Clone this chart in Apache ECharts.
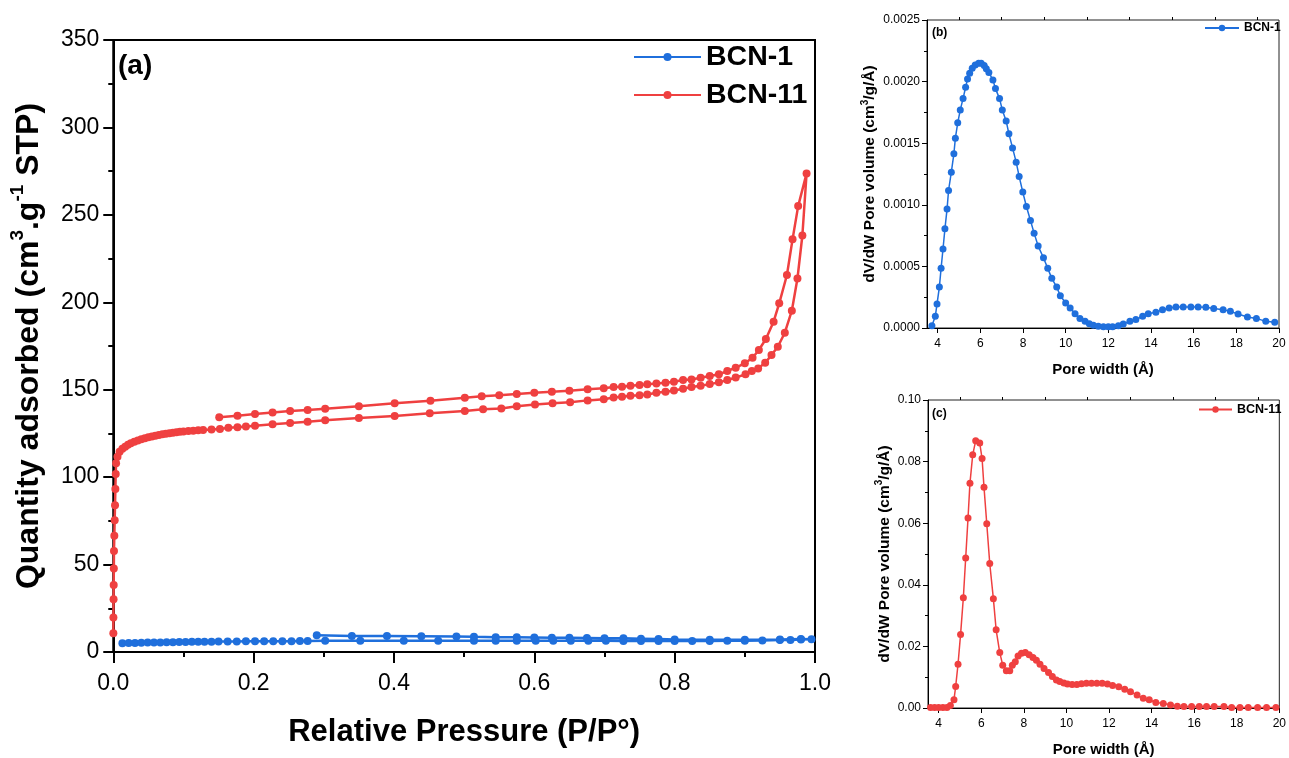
<!DOCTYPE html>
<html>
<head>
<meta charset="utf-8">
<script src="https://cdn.jsdelivr.net/npm/echarts@6/dist/echarts.min.js"></script>
<style>
html,body{margin:0;padding:0;background:#fff;}
#chart{width:1289px;height:758px;}
</style>
</head>
<body>
<div id="chart"></div>
<script>
// ---- Panel (a): N2 isotherms ----
const bcn11P = [0.0001,0.0002,0.0004,0.0006,0.0008,0.001,0.0015,0.002,0.0025,0.003,0.0035,0.004,0.006,0.009,0.013,0.017,0.021,0.025,0.030,0.035,0.040,0.045,0.050,0.055,0.060,0.065,0.070,0.075,0.080,0.085,0.090,0.095,0.100,0.107,0.114,0.121,0.128,0.140,0.152,0.164,0.177,0.189,0.202,0.227,0.252,0.277,0.302,0.350,0.401,0.451,0.501,0.527,0.553,0.575,0.601,0.626,0.651,0.676,0.699,0.713,0.725,0.737,0.750,0.761,0.774,0.787,0.799,0.812,0.824,0.837,0.850,0.863,0.875,0.887,0.901,0.910,0.919,0.929,0.938,0.947,0.957,0.967,0.975,0.982,0.988,
  0.976,0.968,0.960,0.949,0.941,0.930,0.920,0.911,0.900,0.887,0.875,0.863,0.850,0.837,0.824,0.812,0.799,0.787,0.774,0.761,0.750,0.737,0.725,0.713,0.699,0.676,0.650,0.625,0.600,0.575,0.550,0.525,0.501,0.452,0.401,0.350,0.302,0.277,0.252,0.227,0.202,0.177,0.151];
const bcn11V = [10.7,19.8,30.1,38.3,47.8,57.8,66.5,75.3,83.9,93.2,101.8,107.9,111.7,114.5,116.2,117.4,118.5,119.4,120.2,121.0,121.7,122.3,122.8,123.3,123.7,124.1,124.5,124.8,125.1,125.4,125.7,125.9,126.1,126.4,126.6,126.8,127.0,127.2,127.5,128.2,128.6,128.9,129.4,130.2,130.9,131.7,132.6,133.8,134.9,136.5,137.8,138.8,139.3,140.6,141.6,142.2,142.8,143.9,144.5,145.6,146.0,146.6,146.9,147.3,148.3,148.8,149.6,150.6,151.5,152.3,153.2,154.2,155.5,157.0,158.8,160.7,162.2,165.4,169.8,174.6,182.6,195.2,213.6,238.2,273.7,
  255.0,236.0,215.6,199.4,188.9,179.0,172.7,168.3,165.1,162.6,160.7,158.8,157.8,156.8,155.9,155.5,154.6,154.0,153.6,153.1,152.7,152.3,151.7,151.5,150.8,150.2,149.4,148.8,148.3,147.5,146.9,146.2,145.4,143.7,142.2,140.5,139.1,138.4,137.8,137.0,136.1,135.1,134.2];

const bcn1P = [0.013,0.022,0.031,0.040,0.049,0.058,0.067,0.076,0.085,0.094,0.103,0.112,0.121,0.130,0.140,0.150,0.163,0.176,0.189,0.202,0.215,0.228,0.241,0.254,0.266,0.277,0.302,0.352,0.414,0.463,0.514,0.545,0.575,0.602,0.627,0.652,0.677,0.702,0.727,0.752,0.777,0.800,0.825,0.850,0.875,0.900,0.925,0.950,0.965,0.980,0.995,
  0.980,0.950,0.900,0.850,0.800,0.777,0.752,0.727,0.700,0.675,0.650,0.625,0.600,0.575,0.545,0.514,0.489,0.439,0.390,0.340,0.290];
const bcn1V = [5.0,5.1,5.2,5.3,5.4,5.5,5.5,5.6,5.6,5.7,5.7,5.8,5.8,5.9,5.9,6.0,6.0,6.0,6.1,6.1,6.1,6.2,6.2,6.2,6.3,6.3,6.4,6.5,6.5,6.5,6.5,6.5,6.5,6.4,6.4,6.4,6.4,6.4,6.3,6.3,6.3,6.3,6.3,6.3,6.4,6.5,6.6,6.8,6.9,7.1,7.3,
  7.4,7.2,7.0,7.0,7.2,7.4,7.6,7.8,7.9,8.0,8.1,8.2,8.3,8.4,8.5,8.7,8.9,9.0,9.1,9.2,9.6];

// ---- Panel (b): BCN-1 pore size distribution ----
const psdBW = [3.73,3.89,3.97,4.08,4.16,4.25,4.34,4.44,4.51,4.64,4.76,4.83,4.94,5.06,5.19,5.31,5.40,5.50,5.62,5.76,5.92,6.04,6.18,6.28,6.40,6.59,6.71,6.90,7.03,7.21,7.34,7.51,7.68,7.82,7.99,8.16,8.35,8.52,8.71,8.96,9.16,9.35,9.58,9.75,10.0,10.21,10.44,10.67,10.91,11.11,11.30,11.53,11.77,12.0,12.2,12.47,12.70,13.01,13.29,13.61,13.87,14.23,14.54,14.85,15.17,15.51,15.87,16.21,16.57,16.94,17.38,17.72,18.08,18.52,18.94,19.38,19.80];
const psdBV = [0.000019,0.000095,0.000195,0.000332,0.000484,0.000641,0.000805,0.000965,0.001116,0.001265,0.001414,0.001541,0.001665,0.00177,0.001862,0.001954,0.002022,0.002068,0.002108,0.002135,0.002149,0.002149,0.00213,0.002105,0.002073,0.002014,0.001943,0.001862,0.00177,0.001681,0.001576,0.001462,0.001346,0.00123,0.001103,0.000986,0.000873,0.00077,0.000665,0.00057,0.000484,0.000403,0.000332,0.000262,0.000203,0.000162,0.000116,0.000078,0.000054,0.000035,0.000022,0.000014,0.000011,0.000011,0.000011,0.000019,0.000032,0.000054,0.000068,0.000095,0.000116,0.000127,0.000149,0.000162,0.00017,0.00017,0.00017,0.00017,0.000168,0.000159,0.000149,0.000135,0.000114,0.000089,0.000078,0.000054,0.000046];

// ---- Panel (c): BCN-11 pore size distribution ----
const psdCW = [3.62,3.81,4.0,4.2,4.39,4.55,4.72,4.80,4.91,5.03,5.16,5.27,5.38,5.47,5.60,5.74,5.93,6.04,6.13,6.26,6.40,6.57,6.70,6.87,7.01,7.18,7.34,7.46,7.60,7.73,7.89,8.07,8.25,8.43,8.59,8.76,8.95,9.16,9.34,9.53,9.69,9.88,10.05,10.27,10.49,10.71,10.94,11.18,11.43,11.68,11.93,12.17,12.46,12.74,13.01,13.32,13.61,13.89,14.20,14.55,14.89,15.21,15.52,15.88,16.24,16.58,16.94,17.40,17.76,18.15,18.54,18.98,19.40,19.84];
const psdCV = [0.0002,0.0002,0.0002,0.0002,0.0002,0.0008,0.0027,0.0070,0.0142,0.0239,0.0358,0.0487,0.0617,0.0730,0.0822,0.0868,0.0860,0.0810,0.0717,0.0598,0.0469,0.0355,0.0254,0.0180,0.0139,0.0121,0.0121,0.0139,0.0150,0.0169,0.0178,0.0180,0.0173,0.0164,0.0155,0.0142,0.0128,0.0115,0.0102,0.0091,0.0086,0.0081,0.0078,0.0076,0.0076,0.0079,0.0080,0.0080,0.0080,0.0080,0.0078,0.0073,0.0069,0.0061,0.0053,0.0042,0.0032,0.0027,0.0018,0.0015,0.0010,0.0006,0.0005,0.0005,0.0005,0.0005,0.0005,0.0005,0.0002,0.0002,0.0002,0.0002,0.0002,0.0002];

const poreMajorTicks = [4,6,8,10,12,14,16,18,20];
const poreMinorTicks = [5,7,9,11,13,15,17,19];

const BLUE = '#1f6fdc';
const RED = '#ef4040';
const FONT = "'Liberation Sans', Arial, sans-serif";

const zip = (a, b) => a.map((v, i) => [v, b[i]]);

const chart = echarts.init(document.getElementById('chart'));

const smallAxisCommon = {
  axisLine: { lineStyle: { color: '#000', width: 1 } },
  axisTick: { lineStyle: { color: '#000', width: 1 }, length: 5 },
  minorTick: { show: true, splitNumber: 2, length: 3, lineStyle: { color: '#000' } },
  splitLine: { show: false },
  axisLabel: { color: '#000', fontSize: 12, fontFamily: FONT, margin: 7 }
};

const poreNameStyle = { fontSize: 15, fontWeight: 'bold', color: '#000', fontFamily: FONT };
const psdYNameStyle = {
  fontSize: 15.5, fontWeight: 'bold', color: '#000', fontFamily: FONT, lineHeight: 19,
  rich: { sup: { fontSize: 10, fontWeight: 'bold', color: '#000', fontFamily: FONT, lineHeight: 11, verticalAlign: 'top' } }
};

const option = {
  animation: false,
  backgroundColor: '#fff',
  textStyle: { fontFamily: FONT },
  grid: [
    { left: 111, right: 474, top: 40, bottom: 106, show: true, borderColor: '#000', borderWidth: 2 },
    { left: 927, right: 10, top: 20, bottom: 430, show: true, borderColor: '#222', borderWidth: 1 },
    { left: 928, right: 9, top: 400, bottom: 49, show: true, borderColor: '#222', borderWidth: 1 }
  ],
  xAxis: [
    {
      type: 'value', gridIndex: 0, min: 0, max: 1, interval: 0.2,
      name: 'Relative Pressure (P/P°)', nameLocation: 'middle', nameGap: 65,
      nameTextStyle: { fontSize: 31, fontWeight: 'bold', color: '#000', fontFamily: FONT },
      axisLine: { lineStyle: { color: '#000', width: 2 } },
      axisTick: { length: 11, lineStyle: { color: '#000', width: 2 } },
      minorTick: { show: true, splitNumber: 2, length: 5, lineStyle: { color: '#000', width: 2 } },
      splitLine: { show: false },
      axisLabel: { color: '#000', fontSize: 23, fontFamily: FONT, margin: 20, formatter: v => v.toFixed(1) }
    },
    Object.assign({}, smallAxisCommon, {
      type: 'value', gridIndex: 1, min: 3.5, max: 20,
      name: 'Pore width (Å)', nameLocation: 'middle', nameGap: 34,
      nameTextStyle: poreNameStyle,
      axisTick: { customValues: poreMajorTicks, length: 5, lineStyle: { color: '#000' } },
      axisLabel: Object.assign({}, smallAxisCommon.axisLabel, { customValues: poreMajorTicks, margin: 10 }),
      minorTick: { show: false }
    }),
    {
      type: 'value', gridIndex: 1, min: 3.5, max: 20,
      axisLine: { show: false }, axisLabel: { show: false }, splitLine: { show: false },
      axisTick: { customValues: poreMinorTicks, length: 3, lineStyle: { color: '#000' } }
    },
    Object.assign({}, smallAxisCommon, {
      type: 'value', gridIndex: 2, min: 3.5, max: 20,
      name: 'Pore width (Å)', nameLocation: 'middle', nameGap: 34,
      nameTextStyle: poreNameStyle,
      axisTick: { customValues: poreMajorTicks, length: 5, lineStyle: { color: '#000' } },
      axisLabel: Object.assign({}, smallAxisCommon.axisLabel, { customValues: poreMajorTicks, margin: 10 }),
      minorTick: { show: false }
    }),
    {
      type: 'value', gridIndex: 2, min: 3.5, max: 20,
      axisLine: { show: false }, axisLabel: { show: false }, splitLine: { show: false },
      axisTick: { customValues: poreMinorTicks, length: 3, lineStyle: { color: '#000' } }
    }
  ],
  yAxis: [
    {
      type: 'value', gridIndex: 0, min: 0, max: 350, interval: 50,
      name: 'Quantity adsorbed (cm{sup|3}.g{sup|-1} STP)', nameLocation: 'middle', nameGap: 54,
      nameTextStyle: {
        fontSize: 32, fontWeight: 'bold', color: '#000', fontFamily: FONT, lineHeight: 42,
        rich: { sup: { fontSize: 19, fontWeight: 'bold', color: '#000', fontFamily: FONT, lineHeight: 23, verticalAlign: 'top' } }
      },
      axisLine: { lineStyle: { color: '#000', width: 2 } },
      axisTick: { length: 10, lineStyle: { color: '#000', width: 2 } },
      minorTick: { show: true, splitNumber: 2, length: 5, lineStyle: { color: '#000', width: 2 } },
      splitLine: { show: false },
      axisLabel: { color: '#000', fontSize: 23, fontFamily: FONT, margin: 14 }
    },
    Object.assign({}, smallAxisCommon, {
      type: 'value', gridIndex: 1, min: 0, max: 0.0025, interval: 0.0005,
      name: 'dV/dW Pore volume (cm{sup|3}/g/Å)', nameLocation: 'middle', nameGap: 46,
      nameTextStyle: psdYNameStyle,
      axisLabel: Object.assign({}, smallAxisCommon.axisLabel, { formatter: v => v.toFixed(4) })
    }),
    Object.assign({}, smallAxisCommon, {
      type: 'value', gridIndex: 2, min: 0, max: 0.10, interval: 0.02,
      name: 'dV/dW Pore volume (cm{sup|3}/g/Å)', nameLocation: 'middle', nameGap: 34,
      nameTextStyle: psdYNameStyle,
      axisLabel: Object.assign({}, smallAxisCommon.axisLabel, { formatter: v => v.toFixed(2) })
    })
  ],
  legend: [
    {
      data: ['BCN-1', 'BCN-11'], orient: 'vertical', left: 633, top: 41, padding: 0,
      itemWidth: 67, itemHeight: 10, itemGap: 6, selectedMode: false,
      textStyle: { fontSize: 28.5, fontWeight: 'bold', color: '#000', fontFamily: FONT, lineHeight: 32 }
    },
    {
      data: ['BCN-1'], orient: 'vertical', left: 1204, top: 22, padding: 0,
      itemWidth: 34, itemHeight: 8, selectedMode: false,
      textStyle: { fontSize: 12, fontWeight: 'bold', color: '#000', fontFamily: FONT }
    },
    {
      data: ['BCN-11'], orient: 'vertical', left: 1198, top: 403, padding: 0,
      itemWidth: 33, itemHeight: 8, selectedMode: false,
      textStyle: { fontSize: 12.5, fontWeight: 'bold', color: '#000', fontFamily: FONT }
    }
  ],
  graphic: [
    { type: 'text', left: 118, top: 52, style: { text: '(a)', fontSize: 28, fontWeight: 'bold', fill: '#000', fontFamily: FONT } },
    { type: 'text', left: 932, top: 27, style: { text: '(b)', fontSize: 12, fontWeight: 'bold', fill: '#000', fontFamily: FONT } },
    { type: 'text', left: 932, top: 408, style: { text: '(c)', fontSize: 12, fontWeight: 'bold', fill: '#000', fontFamily: FONT } }
  ],
  series: [
    {
      name: 'BCN-1', type: 'line', xAxisIndex: 0, yAxisIndex: 0,
      data: zip(bcn1P, bcn1V), symbol: 'circle', symbolSize: 8,
      lineStyle: { color: BLUE, width: 2.5 }, itemStyle: { color: BLUE }, z: 3
    },
    {
      name: 'BCN-11', type: 'line', xAxisIndex: 0, yAxisIndex: 0,
      data: zip(bcn11P, bcn11V), symbol: 'circle', symbolSize: 8,
      lineStyle: { color: RED, width: 2.5 }, itemStyle: { color: RED }, z: 2
    },
    {
      name: 'BCN-1', type: 'line', xAxisIndex: 1, yAxisIndex: 1,
      data: zip(psdBW, psdBV), symbol: 'circle', symbolSize: 7,
      lineStyle: { color: BLUE, width: 1.5 }, itemStyle: { color: BLUE }
    },
    {
      name: 'BCN-11', type: 'line', xAxisIndex: 3, yAxisIndex: 2,
      data: zip(psdCW, psdCV), symbol: 'circle', symbolSize: 7,
      lineStyle: { color: RED, width: 1.5 }, itemStyle: { color: RED }
    }
  ]
};

chart.setOption(option);
</script>
</body>
</html>
